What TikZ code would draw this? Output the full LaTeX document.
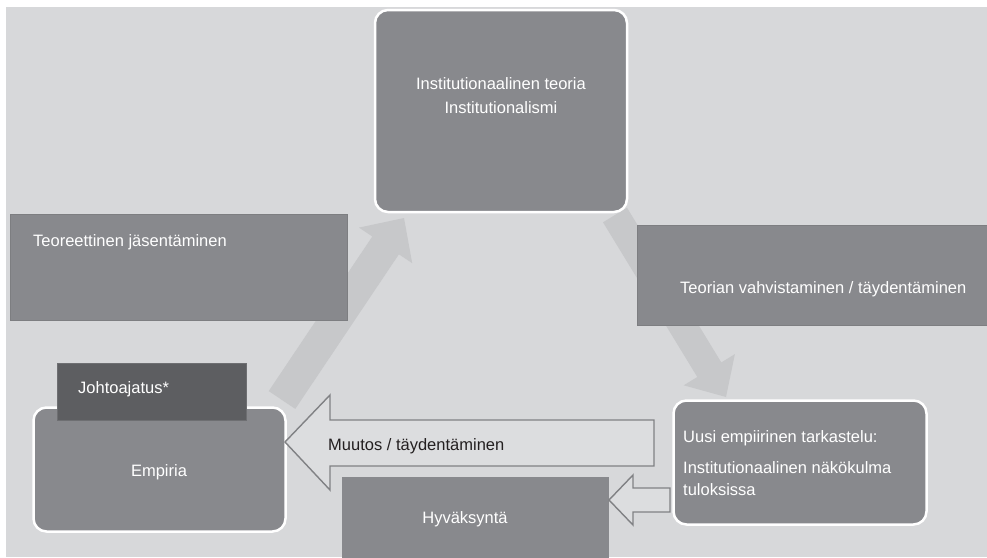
\documentclass[tikz,border=0pt]{standalone}
\usepackage{fontspec}
\setmainfont{Liberation Sans}
\definecolor{canvasGray}{HTML}{D7D8DA}
\definecolor{boxGray}{HTML}{88898D}
\definecolor{boxEdge}{HTML}{7D7E81}
\definecolor{darkGray}{HTML}{5D5E61}
\definecolor{darkEdge}{HTML}{6E6F72}
\definecolor{flowGray}{HTML}{C7C8CA}
\definecolor{hollowFill}{HTML}{DCDDDF}
\definecolor{hollowEdge}{HTML}{808184}
\definecolor{inkBlack}{HTML}{231F20}
\tikzset{
  roundbox/.style={draw=white, line width=2.5pt, fill=boxGray, rounded corners=13pt, inner sep=0pt},
  plainbox/.style={draw=boxEdge, line width=0.8pt, fill=boxGray, inner sep=0pt},
  darkbox/.style={draw=darkEdge, line width=1.5pt, fill=darkGray, inner sep=0pt},
  flatbox/.style={fill=boxGray, inner sep=0pt},
  flowarrow/.style={fill=flowGray},
  hollowarrow/.style={draw=hollowEdge, line width=1.4pt, fill=hollowFill, line join=miter},
  lbl/.style={inner sep=0pt, text=white, font=\fontsize{16.5}{20}\selectfont},
}
\begin{document}
\begin{tikzpicture}[x=1pt, y=-1pt]
\useasboundingbox (0,0) rectangle (987,557);
\fill[canvasGray] (6,7) rectangle (987,557);

% cycle arrow: Empiria -> theory
\coordinate (a1t1) at (268.7,391.1);
\coordinate (a1t2) at (295.3,408.9);
\coordinate (a1s1) at (372.3,236.5);
\coordinate (a1s2) at (398.9,254.3);
\coordinate (a1h1) at (359.0,227.6);
\coordinate (a1h2) at (412.2,263.2);
\coordinate (a1tip) at (404,218);
\fill[flowarrow] (a1t1) -- (a1s1) -- (a1h1) -- (a1tip) -- (a1h2) -- (a1s2) -- (a1t2) -- cycle;

% cycle arrow: theory -> new empirical study
\coordinate (a2t1) at (603.0,222.3);
\coordinate (a2t2) at (627.0,207.7);
\coordinate (a2s1) at (697.3,377.0);
\coordinate (a2s2) at (721.3,362.4);
\coordinate (a2h1) at (683.7,385.3);
\coordinate (a2h2) at (734.9,354.1);
\coordinate (a2tip) at (726,397);
\fill[flowarrow] (a2t1) -- (a2s1) -- (a2h1) -- (a2tip) -- (a2h2) -- (a2s2) -- (a2t2) -- cycle;

% boxes
\node[roundbox, minimum width=252pt, minimum height=202pt] (theory) at (501,111) {};
\node[plainbox, minimum width=337pt, minimum height=106pt] (structuring) at (178.5,267) {};
\node[plainbox, minimum width=352pt, minimum height=100pt] (confirm) at (813,275) {};
\node[roundbox, minimum width=252pt, minimum height=124pt] (empiria) at (159.5,469.5) {};
\node[darkbox, minimum width=189pt, minimum height=57pt] (leading) at (152,392) {};
\node[roundbox, minimum width=253pt, minimum height=124pt] (newstudy) at (800,462.5) {};
\node[flatbox, minimum width=267pt, minimum height=82pt] (accept) at (475.5,518) {};

% hollow arrow: new study -> Empiria
\coordinate (m1) at (285,442);
\coordinate (m2) at (330,395);
\coordinate (m3) at (330,420);
\coordinate (m4) at (654,420);
\coordinate (m5) at (654,466);
\coordinate (m6) at (330,466);
\coordinate (m7) at (330,490);
\draw[hollowarrow] (m1) -- (m2) -- (m3) -- (m4) -- (m5) -- (m6) -- (m7) -- cycle;

% hollow arrow: new study -> acceptance
\coordinate (h1) at (609,500);
\coordinate (h2) at (633,475);
\coordinate (h3) at (633,488);
\coordinate (h4) at (670,488);
\coordinate (h5) at (670,512);
\coordinate (h6) at (633,512);
\coordinate (h7) at (633,525);
\draw[hollowarrow] (h1) -- (h2) -- (h3) -- (h4) -- (h5) -- (h6) -- (h7) -- cycle;

% labels
\node[lbl, anchor=base] (theoryA) at (501,89) {Institutionaalinen teoria};
\node[lbl, anchor=base] (theoryB) at (501,113) {Institutionalismi};
\node[lbl, anchor=base west] (structuringT) at (33,246) {Teoreettinen jäsentäminen};
\node[lbl, anchor=base west] (confirmT) at (680,293) {Teorian vahvistaminen / täydentäminen};
\node[lbl, anchor=base west] (leadingT) at (78,393) {Johtoajatus*};
\node[lbl, anchor=base] (empiriaT) at (159,476) {Empiria};
\node[lbl, anchor=base west, text=inkBlack] (changeT) at (328,450) {Muutos / täydentäminen};
\node[lbl, anchor=base] (acceptT) at (465,523) {Hyväksyntä};
\node[lbl, anchor=base west] (newA) at (683,442) {Uusi empiirinen tarkastelu:};
\node[lbl, anchor=base west] (newB) at (683,473) {Institutionaalinen näkökulma};
\node[lbl, anchor=base west] (newC) at (683,495) {tuloksissa};
\end{tikzpicture}
\end{document}
